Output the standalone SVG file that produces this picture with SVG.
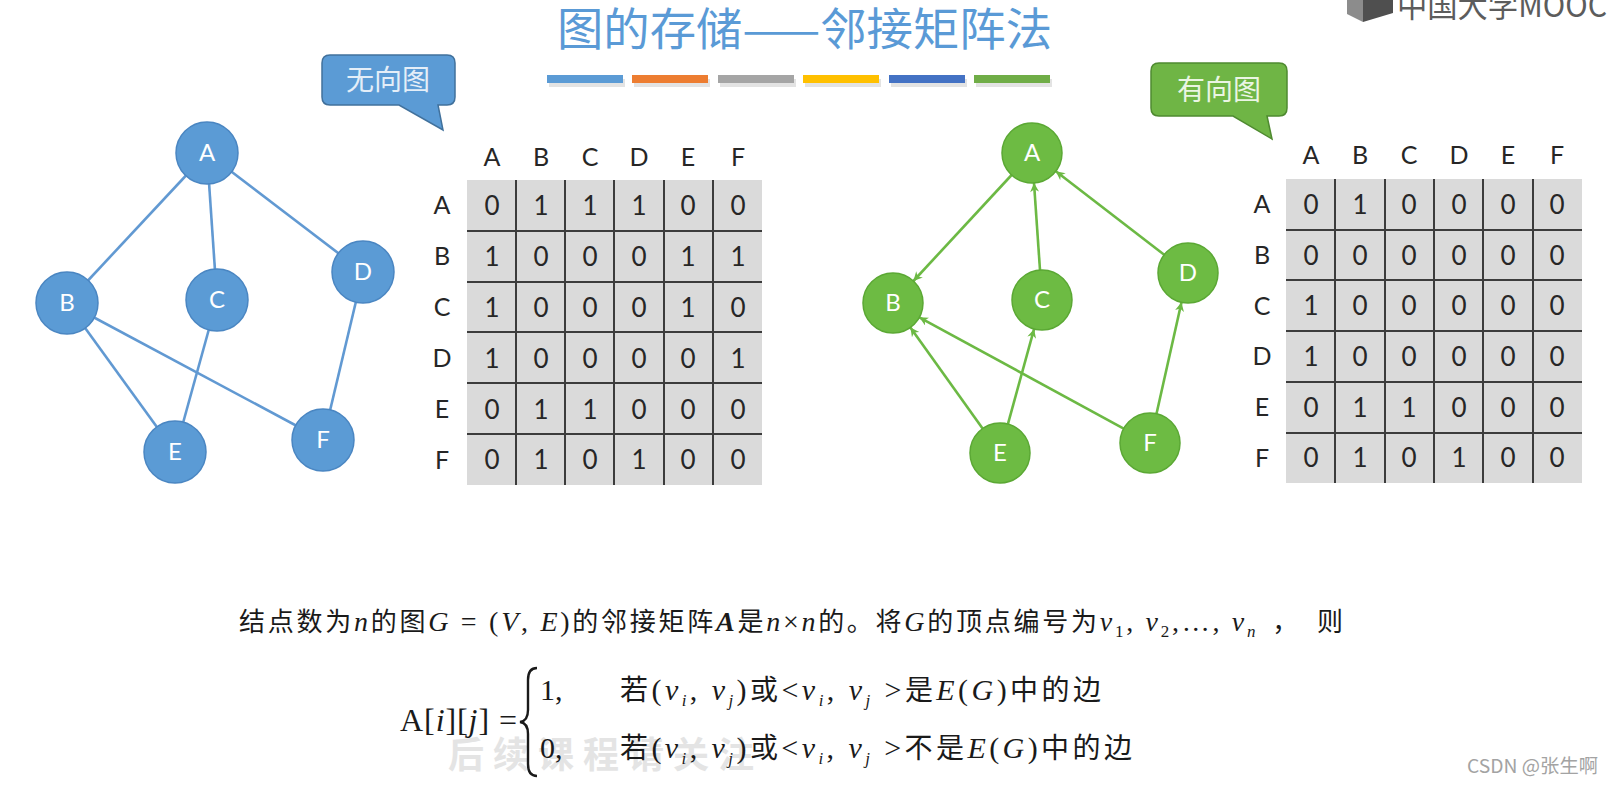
<svg xmlns="http://www.w3.org/2000/svg" width="1613" height="785" viewBox="0 0 1613 785">
<defs>
<style>
.title{font-family:"Noto Sans CJK SC","Noto Sans",sans-serif;font-size:45px;fill:#5a9ad6}
.bub{font-family:"Noto Sans CJK SC",sans-serif;font-size:28px;text-anchor:middle}
.hd{font-family:Lato,"Liberation Sans",sans-serif;font-size:25px;fill:#262626;text-anchor:middle}
.cell{font-family:Lato,"Liberation Sans",sans-serif;font-size:26px;fill:#262626;text-anchor:middle}
.grid{stroke:#3c3c3c;stroke-width:2}
.lbl{font-family:Lato,"Liberation Sans",sans-serif;font-size:24px;fill:#ffffff;text-anchor:middle}
.un{fill:#5b9bd5;stroke:#4a86c2;stroke-width:1.5}
.dn{fill:#6dbb43;stroke:#5ba834;stroke-width:1.5}
.ue{stroke:#6199d2;stroke-width:2.6;fill:none}
.de{stroke:#6cb944;stroke-width:2.6;fill:none;marker-end:url(#arr)}
.f{font-family:"Liberation Serif","Noto Sans CJK SC",serif;fill:#1a1a1a}
.it{font-style:italic}
.bi{font-style:italic;font-weight:bold}
.sb{font-size:17px}
</style>
<marker id="arr" viewBox="0 0 10 10" refX="10" refY="5" markerWidth="10" markerHeight="9" markerUnits="userSpaceOnUse" orient="auto">
<path d="M0,0 L10,5 L0,10 L3,5 z" fill="#6cb944"/>
</marker>
</defs>
<rect width="1613" height="785" fill="#ffffff"/>

<g id="logo">
<polygon points="1347,0 1363,0 1363,22 1347,14" fill="#8c8c8c"/>
<polygon points="1363,0 1393,0 1393,13 1363,22" fill="#4f4f4f"/>
<text x="1397" y="17" font-family="Noto Sans CJK SC, Lato, sans-serif" font-size="32" fill="#5c5c5c" textLength="210" lengthAdjust="spacingAndGlyphs">中国大学MOOC</text>
</g>

<g id="title">
<text class="title" x="557" y="46" textLength="495" lengthAdjust="spacingAndGlyphs">图的存储——邻接矩阵法</text>
<g id="bars">
<rect x="549" y="79" width="76" height="8" fill="#e3e3e3"/>
<rect x="634" y="79" width="76" height="8" fill="#e3e3e3"/>
<rect x="720" y="79" width="76" height="8" fill="#e3e3e3"/>
<rect x="805" y="79" width="76" height="8" fill="#e3e3e3"/>
<rect x="891" y="79" width="76" height="8" fill="#e3e3e3"/>
<rect x="976" y="79" width="76" height="8" fill="#e3e3e3"/>
<rect x="547" y="75" width="76" height="8" fill="#5b9bd5"/>
<rect x="632" y="75" width="76" height="8" fill="#ed7d31"/>
<rect x="718" y="75" width="76" height="8" fill="#a5a5a5"/>
<rect x="803" y="75" width="76" height="8" fill="#ffc000"/>
<rect x="889" y="75" width="76" height="8" fill="#4472c4"/>
<rect x="974" y="75" width="76" height="8" fill="#70ad47"/>
</g>
</g>

<g id="bubble-undirected">
<path d="M330,55 H447 Q455,55 455,63 V97 Q455,105 447,105 H438 L443,130 L399,105 H330 Q322,105 322,97 V63 Q322,55 330,55 Z" fill="#5b9bd5" stroke="#41719c" stroke-width="1.5"/>
<text class="bub" x="388" y="90" fill="#e4eef8">无向图</text>
</g>

<g id="bubble-directed">
<path d="M1159,63 H1279 Q1287,63 1287,71 V108 Q1287,116 1279,116 H1267 L1272,139 L1233,116 H1159 Q1151,116 1151,108 V71 Q1151,63 1159,63 Z" fill="#6fb545" stroke="#4f8a30" stroke-width="1.5"/>
<text class="bub" x="1219" y="100" fill="#eaf5e3">有向图</text>
</g>

<g id="undirected-connectors">
<line class="ue" x1="207" y1="153" x2="67" y2="303"/>
<line class="ue" x1="207" y1="153" x2="217" y2="300"/>
<line class="ue" x1="207" y1="153" x2="363" y2="272"/>
<line class="ue" x1="67" y1="303" x2="175" y2="452"/>
<line class="ue" x1="67" y1="303" x2="323" y2="440"/>
<line class="ue" x1="217" y1="300" x2="175" y2="452"/>
<line class="ue" x1="363" y1="272" x2="323" y2="440"/>
</g>

<g id="u-A"><circle class="un" cx="207" cy="153" r="31"/><text class="lbl" x="207" y="161">A</text></g>
<g id="u-B"><circle class="un" cx="67" cy="303" r="31"/><text class="lbl" x="67" y="311">B</text></g>
<g id="u-C"><circle class="un" cx="217" cy="300" r="31"/><text class="lbl" x="217" y="308">C</text></g>
<g id="u-D"><circle class="un" cx="363" cy="272" r="31"/><text class="lbl" x="363" y="280">D</text></g>
<g id="u-E"><circle class="un" cx="175" cy="452" r="31"/><text class="lbl" x="175" y="460">E</text></g>
<g id="u-F"><circle class="un" cx="323" cy="440" r="31"/><text class="lbl" x="323" y="448">F</text></g>

<g id="matrix-undirected">
<rect x="467" y="180" width="295" height="305" fill="#dadada"/>
<g class="grid">
<line x1="516" y1="180" x2="516" y2="485"/><line x1="565" y1="180" x2="565" y2="485"/><line x1="614" y1="180" x2="614" y2="485"/><line x1="664" y1="180" x2="664" y2="485"/><line x1="713" y1="180" x2="713" y2="485"/>
<line x1="467" y1="231" x2="762" y2="231"/><line x1="467" y1="282" x2="762" y2="282"/><line x1="467" y1="332" x2="762" y2="332"/><line x1="467" y1="383" x2="762" y2="383"/><line x1="467" y1="434" x2="762" y2="434"/>
</g>
<g class="hd">
<text x="492" y="166">A</text><text x="541" y="166">B</text><text x="590" y="166">C</text><text x="639" y="166">D</text><text x="688" y="166">E</text><text x="738" y="166">F</text>
<text x="442" y="214">A</text><text x="442" y="265">B</text><text x="442" y="316">C</text><text x="442" y="367">D</text><text x="442" y="418">E</text><text x="442" y="469">F</text>
</g>
<g class="cell">
<text x="492" y="215">0</text><text x="541" y="215">1</text><text x="590" y="215">1</text><text x="639" y="215">1</text><text x="688" y="215">0</text><text x="738" y="215">0</text>
<text x="492" y="266">1</text><text x="541" y="266">0</text><text x="590" y="266">0</text><text x="639" y="266">0</text><text x="688" y="266">1</text><text x="738" y="266">1</text>
<text x="492" y="317">1</text><text x="541" y="317">0</text><text x="590" y="317">0</text><text x="639" y="317">0</text><text x="688" y="317">1</text><text x="738" y="317">0</text>
<text x="492" y="368">1</text><text x="541" y="368">0</text><text x="590" y="368">0</text><text x="639" y="368">0</text><text x="688" y="368">0</text><text x="738" y="368">1</text>
<text x="492" y="419">0</text><text x="541" y="419">1</text><text x="590" y="419">1</text><text x="639" y="419">0</text><text x="688" y="419">0</text><text x="738" y="419">0</text>
<text x="492" y="469">0</text><text x="541" y="469">1</text><text x="590" y="469">0</text><text x="639" y="469">1</text><text x="688" y="469">0</text><text x="738" y="469">0</text>
</g>
</g>

<g id="directed-connectors">
<line class="de" x1="1011.6" y1="175" x2="913.4" y2="281"/>
<line class="de" x1="1040" y1="270" x2="1034" y2="183"/>
<line class="de" x1="1164.2" y1="254.7" x2="1055.8" y2="171.3"/>
<line class="de" x1="982.6" y1="428.6" x2="910.4" y2="327.4"/>
<line class="de" x1="1007.9" y1="424.1" x2="1034.1" y2="328.9"/>
<line class="de" x1="1123.7" y1="428.7" x2="919.3" y2="317.3"/>
<line class="de" x1="1156.5" y1="413.7" x2="1181.5" y2="302.3"/>
</g>

<g id="d-A"><circle class="dn" cx="1032" cy="153" r="30"/><text class="lbl" x="1032" y="161">A</text></g>
<g id="d-B"><circle class="dn" cx="893" cy="303" r="30"/><text class="lbl" x="893" y="311">B</text></g>
<g id="d-C"><circle class="dn" cx="1042" cy="300" r="30"/><text class="lbl" x="1042" y="308">C</text></g>
<g id="d-D"><circle class="dn" cx="1188" cy="273" r="30"/><text class="lbl" x="1188" y="281">D</text></g>
<g id="d-E"><circle class="dn" cx="1000" cy="453" r="30"/><text class="lbl" x="1000" y="461">E</text></g>
<g id="d-F"><circle class="dn" cx="1150" cy="443" r="30"/><text class="lbl" x="1150" y="451">F</text></g>

<g id="matrix-directed">
<rect x="1286" y="179" width="296" height="304" fill="#dadada"/>
<g class="grid">
<line x1="1335" y1="179" x2="1335" y2="483"/><line x1="1385" y1="179" x2="1385" y2="483"/><line x1="1434" y1="179" x2="1434" y2="483"/><line x1="1483" y1="179" x2="1483" y2="483"/><line x1="1533" y1="179" x2="1533" y2="483"/>
<line x1="1286" y1="230" x2="1582" y2="230"/><line x1="1286" y1="280" x2="1582" y2="280"/><line x1="1286" y1="331" x2="1582" y2="331"/><line x1="1286" y1="382" x2="1582" y2="382"/><line x1="1286" y1="433" x2="1582" y2="433"/>
</g>
<g class="hd">
<text x="1311" y="164">A</text><text x="1360" y="164">B</text><text x="1409" y="164">C</text><text x="1459" y="164">D</text><text x="1508" y="164">E</text><text x="1557" y="164">F</text>
<text x="1262" y="213">A</text><text x="1262" y="264">B</text><text x="1262" y="315">C</text><text x="1262" y="365">D</text><text x="1262" y="416">E</text><text x="1262" y="467">F</text>
</g>
<g class="cell">
<text x="1311" y="214">0</text><text x="1360" y="214">1</text><text x="1409" y="214">0</text><text x="1459" y="214">0</text><text x="1508" y="214">0</text><text x="1557" y="214">0</text>
<text x="1311" y="265">0</text><text x="1360" y="265">0</text><text x="1409" y="265">0</text><text x="1459" y="265">0</text><text x="1508" y="265">0</text><text x="1557" y="265">0</text>
<text x="1311" y="315">1</text><text x="1360" y="315">0</text><text x="1409" y="315">0</text><text x="1459" y="315">0</text><text x="1508" y="315">0</text><text x="1557" y="315">0</text>
<text x="1311" y="366">1</text><text x="1360" y="366">0</text><text x="1409" y="366">0</text><text x="1459" y="366">0</text><text x="1508" y="366">0</text><text x="1557" y="366">0</text>
<text x="1311" y="417">0</text><text x="1360" y="417">1</text><text x="1409" y="417">1</text><text x="1459" y="417">0</text><text x="1508" y="417">0</text><text x="1557" y="417">0</text>
<text x="1311" y="467">0</text><text x="1360" y="467">1</text><text x="1409" y="467">0</text><text x="1459" y="467">1</text><text x="1508" y="467">0</text><text x="1557" y="467">0</text>
</g>
</g>

<g id="watermark-faint">
<text x="448" y="768" font-family="Noto Sans CJK SC, sans-serif" font-size="36" font-weight="bold" fill="#e4e4e4" letter-spacing="9">后续课程请关注</text>
</g>

<g id="formula">
<text class="f" x="239" y="631" font-size="26" textLength="1104" lengthAdjust="spacing">结点数为<tspan class="it" font-size="28">n</tspan>的图<tspan class="it" font-size="28">G</tspan><tspan font-size="28"> = (</tspan><tspan class="it" font-size="28">V</tspan><tspan font-size="28">, </tspan><tspan class="it" font-size="28">E</tspan><tspan font-size="28">)</tspan>的邻接矩阵<tspan class="bi" font-size="28">A</tspan>是<tspan class="it" font-size="28">n</tspan><tspan font-size="28">×</tspan><tspan class="it" font-size="28">n</tspan>的。将<tspan class="it" font-size="28">G</tspan>的顶点编号为<tspan class="it" font-size="28">v</tspan><tspan class="sb" dy="6">1</tspan><tspan font-size="28" dy="-6">, </tspan><tspan class="it" font-size="28">v</tspan><tspan class="sb" dy="6">2</tspan><tspan font-size="28" dy="-6">,…, </tspan><tspan class="it" font-size="28">v</tspan><tspan class="sb it" dy="6">n</tspan><tspan dy="-6" dx="14">，</tspan><tspan dx="16">则</tspan></text>
<text class="f" x="400" y="731" font-size="32" textLength="117" lengthAdjust="spacing">A[<tspan class="it">i</tspan>][<tspan class="it">j</tspan>] =</text>
<path d="M537,668 Q528,668 528,680 L528,710 Q528,721 520,722 Q528,723 528,734 L528,764 Q528,776 537,776" fill="none" stroke="#1a1a1a" stroke-width="2.4"/>
<text class="f" x="540" y="700" font-size="30">1,</text>
<text class="f" x="540" y="758" font-size="30">0,</text>
<text class="f" x="620" y="700" font-size="28" textLength="481" lengthAdjust="spacing">若<tspan font-size="30">(</tspan><tspan class="it" font-size="30">v</tspan><tspan class="sb it" dy="6">i</tspan><tspan font-size="30" dy="-6">, </tspan><tspan class="it" font-size="30">v</tspan><tspan class="sb it" dy="6">j</tspan><tspan font-size="30" dy="-6">)</tspan>或<tspan font-size="30">&lt;</tspan><tspan class="it" font-size="30">v</tspan><tspan class="sb it" dy="6">i</tspan><tspan font-size="30" dy="-6">, </tspan><tspan class="it" font-size="30">v</tspan><tspan class="sb it" dy="6">j</tspan><tspan font-size="30" dy="-6"> &gt;</tspan>是<tspan class="it" font-size="30">E</tspan><tspan font-size="30">(</tspan><tspan class="it" font-size="30">G</tspan><tspan font-size="30">)</tspan>中的边</text>
<text class="f" x="620" y="758" font-size="28" textLength="512" lengthAdjust="spacing">若<tspan font-size="30">(</tspan><tspan class="it" font-size="30">v</tspan><tspan class="sb it" dy="6">i</tspan><tspan font-size="30" dy="-6">, </tspan><tspan class="it" font-size="30">v</tspan><tspan class="sb it" dy="6">j</tspan><tspan font-size="30" dy="-6">)</tspan>或<tspan font-size="30">&lt;</tspan><tspan class="it" font-size="30">v</tspan><tspan class="sb it" dy="6">i</tspan><tspan font-size="30" dy="-6">, </tspan><tspan class="it" font-size="30">v</tspan><tspan class="sb it" dy="6">j</tspan><tspan font-size="30" dy="-6"> &gt;</tspan>不是<tspan class="it" font-size="30">E</tspan><tspan font-size="30">(</tspan><tspan class="it" font-size="30">G</tspan><tspan font-size="30">)</tspan>中的边</text>
</g>

<g id="watermark-csdn">
<text x="1467" y="773" font-family="Noto Sans CJK SC, sans-serif" font-size="19" fill="#a3a3a3" textLength="131" lengthAdjust="spacingAndGlyphs">CSDN @张生啊</text>
</g>
</svg>
